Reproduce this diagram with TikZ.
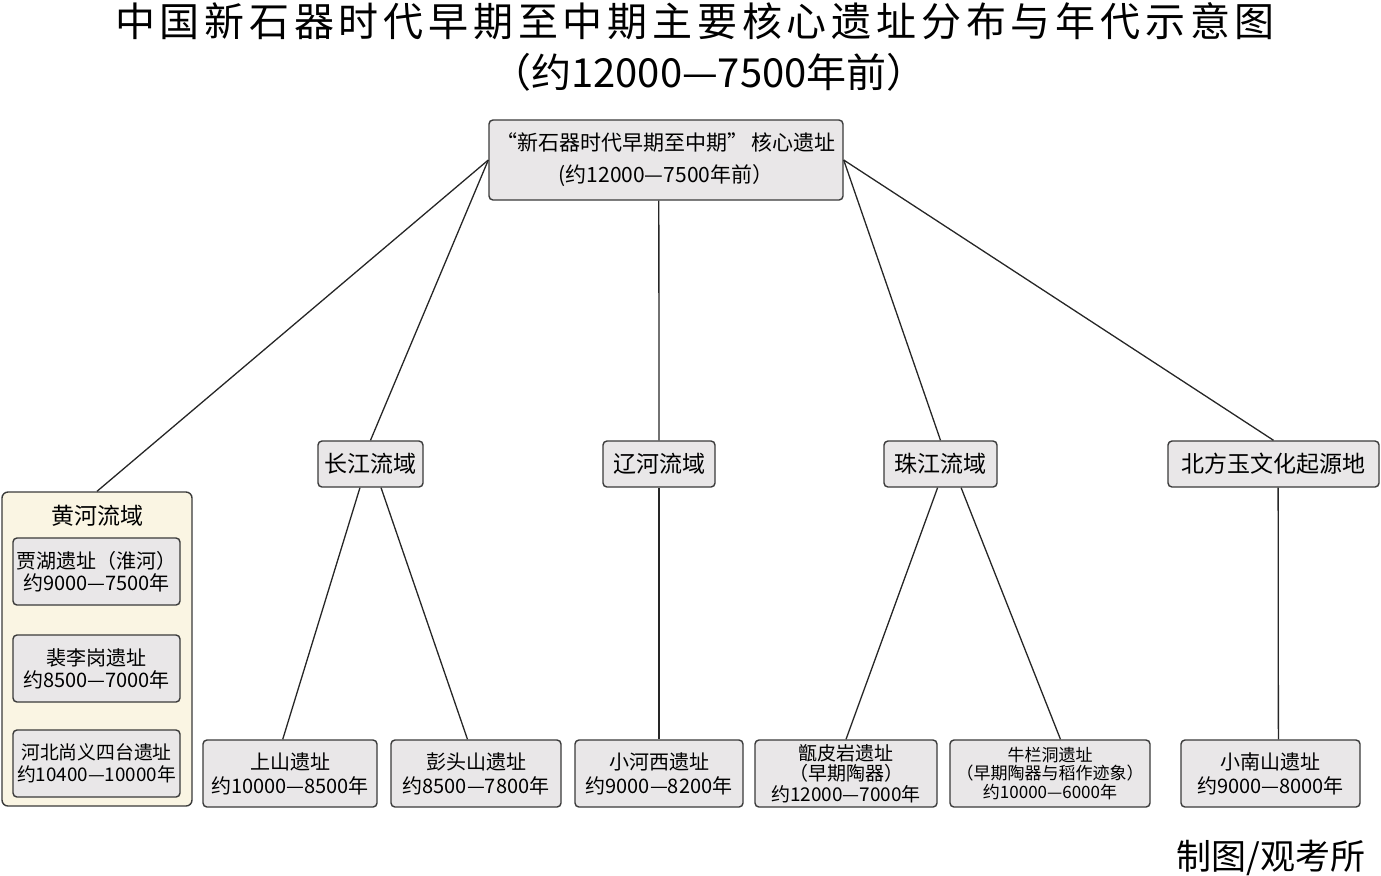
\documentclass[tikz,border=0pt]{standalone}
\usepackage{fontspec}
\setmainfont{Noto Sans CJK SC}
\newfontfamily\headfont{Noto Sans CJK SC}[LetterSpace=12]
\usetikzlibrary{positioning}
\definecolor{boxgray}{HTML}{E9E7E8}
\definecolor{boxline}{HTML}{3A3A3A}
\definecolor{riverbg}{HTML}{FAF5E3}
\begin{document}
\begin{tikzpicture}[
        x=0.5pt, y=-0.5pt,
        box/.style={draw=boxline, fill=boxgray, line width=0.7pt, rounded corners=2pt,
          align=center, inner sep=1pt, font=\fontsize{10}{12}\selectfont},
        basin/.style={box, minimum height=23pt, font=\fontsize{11.5}{13}\selectfont},
        site/.style={box, minimum height=33.5pt},
        link/.style={draw=black!85, line width=0.65pt}
      ]
      \useasboundingbox (0,0) rectangle (1381,875);
      % titles
      \node (title) at (695,21) {\headfont\fontsize{20}{24}\selectfont 中国新石器时代早期至中期主要核心遗址分布与年代示意图};
      \node (subtitle) at (709,72) {\fontsize{20}{24}\selectfont （约12000—7500年前）};
      \node (credit) at (1271,858) {\fontsize{17.5}{20}\selectfont 制图/观考所};
      % root
      \node[box, minimum width=177pt, minimum height=40pt, font=\fontsize{10.5}{16}\selectfont] (core) at (666,160)
        {“新石器时代早期至中期”\,核心遗址\\(约12000—7500年前）};
      % basins
      \node[draw=boxline, fill=riverbg, rounded corners=3pt, line width=0.7pt,
        minimum width=95pt, minimum height=157pt] (yellow) at (97,649) {};
      \node[font=\fontsize{11.5}{13}\selectfont] (yellowname) at (97,516) {黄河流域};
      \node[basin, minimum width=52.5pt] (yangtze) at (370.5,464) {长江流域};
      \node[basin, minimum width=56pt] (liao) at (659,464) {辽河流域};
      \node[basin, minimum width=56.5pt] (pearl) at (940.5,464) {珠江流域};
      \node[basin, minimum width=105.5pt] (north) at (1273.5,464) {北方玉文化起源地};
      % sites
      \node[site, minimum width=83.5pt, font=\fontsize{10}{11}\selectfont] (jiahu) at (96.5,571.5) {贾湖遗址（淮河）\\约9000—7500年};
      \node[site, minimum width=83.5pt, font=\fontsize{10}{11}\selectfont] (peiligang) at (96.5,668.5) {裴李岗遗址\\约8500—7000年};
      \node[site, minimum width=83.5pt, font=\fontsize{9.4}{11}\selectfont] (sitai) at (96.5,763.5) {河北尚义四台遗址\\约10400—10000年};
      \node[site, minimum width=87pt] (shangshan) at (290,773.5) {上山遗址\\约10000—8500年};
      \node[site, minimum width=85pt] (pengtoushan) at (476,773.5) {彭头山遗址\\约8500—7800年};
      \node[site, minimum width=84pt] (xiaohexi) at (659,773.5) {小河西遗址\\约9000—8200年};
      \node[site, minimum width=91pt, font=\fontsize{9.5}{10.3}\selectfont] (zengpiyan) at (846,773.5) {甑皮岩遗址\\（早期陶器）\\约12000—7000年};
      \node[site, minimum width=100pt, font=\fontsize{8.5}{9.3}\selectfont] (niulandong) at (1050,773.5) {牛栏洞遗址\\（早期陶器与稻作迹象）\\约10000—6000年};
      \node[site, minimum width=89.5pt] (xiaonanshan) at (1270.5,773.5) {小南山遗址\\约9000—8000年};
      % links
      \draw[link] (core.west) -- (yellow.north);
      \draw[link] (core.west) -- (yangtze.north);
      \draw[link] (core.-100) -- (liao.north);
      \draw[link] (core.east) -- (pearl.north);
      \draw[link] (core.east) -- (north.north);
      \draw[link] (yangtze.-114) -- (shangshan.102);
      \draw[link] (yangtze.-66) -- (pengtoushan.104);
      \draw[link] (liao.south) -- (xiaohexi.north);
      \draw[link] (pearl.-97) -- (zengpiyan.north);
      \draw[link] (pearl.-49) -- (niulandong.73);
      \draw[link] (north.-79) -- (xiaonanshan.77);
    \end{tikzpicture}
\end{document}
